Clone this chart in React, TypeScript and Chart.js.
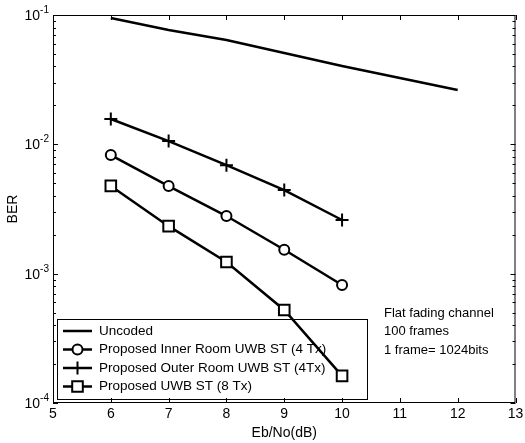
import React, { useEffect, useRef } from "react";
import { Chart, registerables } from "chart.js";

Chart.register(...registerables);

// ---- data ----
const uncodedEbNo = [6, 7, 8, 9, 10, 11, 12];
const uncodedBer = [0.0948, 0.0766, 0.064, 0.0508, 0.0403, 0.0326, 0.0263];
const stEbNo = [6, 7, 8, 9, 10];
const innerRoomBer = [0.00826, 0.00476, 0.00279, 0.00153, 0.000817];
const outerRoomBer = [0.0157, 0.0106, 0.0069, 0.00443, 0.0026];
const uwb8TxBer = [0.00477, 0.00233, 0.00123, 0.000524, 0.000162];

const seriesLabels = [
  "Uncoded",
  "Proposed Inner Room UWB ST (4 Tx)",
  "Proposed Outer Room UWB ST (4Tx)",
  "Proposed UWB ST (8 Tx)",
];
const xTickLabels = [5, 6, 7, 8, 9, 10, 11, 12, 13];
const yTickExponents = [-4, -3, -2, -1];
const noteLines = ["Flat fading channel", "100 frames", "1 frame= 1024bits"];
const xTitle = "Eb/No(dB)";
const yTitle = "BER";

const FONT = "'Liberation Sans', Arial, sans-serif";

const toPts = (xs: number[], ys: number[]) => xs.map((x, i) => ({ x, y: ys[i] }));

function drawPointLocal(ctx: CanvasRenderingContext2D, o: any, x: number, y: number) {
  const r = o.radius;
  ctx.beginPath();
  if (o.pointStyle === "circle") {
    ctx.arc(x, y, r, 0, Math.PI * 2);
    ctx.fill();
    ctx.stroke();
  } else if (o.pointStyle === "rect") {
    const s = Math.SQRT1_2 * r;
    ctx.rect(x - s, y - s, 2 * s, 2 * s);
    ctx.fill();
    ctx.stroke();
  } else if (o.pointStyle === "cross") {
    ctx.moveTo(x - r, y);
    ctx.lineTo(x + r, y);
    ctx.moveTo(x, y - r);
    ctx.lineTo(x, y + r);
    ctx.stroke();
  }
}

const decorPlugin = {
  id: "decor",
  beforeDatasetsDraw(chart: any) {
    const { ctx } = chart;
    // legend box (drawn beneath the lines)
    const bx = 57, by = 319, bw = 310, bh = 80;
    ctx.save();
    ctx.fillStyle = "#fff";
    ctx.fillRect(bx, by, bw, bh);
    ctx.strokeStyle = "#000";
    ctx.lineWidth = 1;
    ctx.strokeRect(bx + 0.5, by + 0.5, bw, bh);
    chart.data.datasets.forEach((ds: any, i: number) => {
      const yy = 331 + i * 18.5;
      ctx.strokeStyle = "#000";
      ctx.lineWidth = 2.5;
      ctx.beginPath();
      ctx.moveTo(63, yy);
      ctx.lineTo(92, yy);
      ctx.stroke();
      if (ds.pointStyle && ds.pointRadius > 0) {
        ctx.lineWidth = 2;
        ctx.fillStyle = "#fff";
        ctx.strokeStyle = "#000";
        drawPointLocal(ctx, { pointStyle: ds.pointStyle, radius: ds.pointRadius }, 77.5, yy);
      }
      ctx.fillStyle = "#000";
      ctx.font = `13.5px ${FONT}`;
      ctx.textBaseline = "middle";
      ctx.textAlign = "left";
      ctx.fillText(ds.label, 99, yy);
    });
    ctx.restore();
  },
  afterDraw(chart: any) {
    const { ctx, chartArea } = chart;
    const xs = chart.scales.x;
    const ys = chart.scales.y;
    const { left, right, top, bottom } = chartArea;
    ctx.save();
    ctx.strokeStyle = "#000";
    ctx.lineWidth = 1;
    ctx.strokeRect(left + 0.5, top + 0.5, right - left - 1, bottom - top - 1);
    // x ticks
    ctx.beginPath();
    xTickLabels.forEach((v) => {
      const px = Math.round(xs.getPixelForValue(v)) + 0.5;
      ctx.moveTo(px, bottom);
      ctx.lineTo(px, bottom - 5);
      ctx.moveTo(px, top);
      ctx.lineTo(px, top + 5);
    });
    // y ticks (major + minor)
    yTickExponents.forEach((e) => {
      for (let m = 1; m <= 9; m++) {
        const v = m * Math.pow(10, e);
        if (m > 1 && e === yTickExponents[yTickExponents.length - 1]) continue;
        const py = Math.round(ys.getPixelForValue(v)) + 0.5;
        const len = m === 1 ? 5 : 3;
        ctx.moveTo(left, py);
        ctx.lineTo(left + len, py);
        ctx.moveTo(right, py);
        ctx.lineTo(right - len, py);
      }
    });
    ctx.stroke();

    ctx.fillStyle = "#000";
    ctx.font = `14px ${FONT}`;
    ctx.textAlign = "center";
    ctx.textBaseline = "top";
    xTickLabels.forEach((v) => {
      ctx.fillText(String(v), xs.getPixelForValue(v), 407);
    });
    // y labels 10^e
    yTickExponents.forEach((e) => {
      const py = ys.getPixelForValue(Math.pow(10, e));
      ctx.font = `10px ${FONT}`;
      const sup = String(e);
      const sw = ctx.measureText(sup).width;
      ctx.textAlign = "left";
      ctx.textBaseline = "alphabetic";
      ctx.fillText(sup, 49 - sw, py - 2);
      ctx.font = `14px ${FONT}`;
      ctx.textAlign = "right";
      ctx.fillText("10", 49 - sw, py + 5);
    });
    // axis titles
    ctx.font = `14px ${FONT}`;
    ctx.textAlign = "center";
    ctx.textBaseline = "middle";
    ctx.fillText(xTitle, (left + right) / 2, 433);
    ctx.save();
    ctx.translate(13, (top + bottom) / 2);
    ctx.rotate(-Math.PI / 2);
    ctx.fillText(yTitle, 0, 0);
    ctx.restore();
    // note
    ctx.font = `13px ${FONT}`;
    ctx.textAlign = "left";
    noteLines.forEach((t, i) => ctx.fillText(t, 384, 313 + i * 18.5));
    ctx.restore();
  },
};

export default function App() {
  const ref = useRef<HTMLCanvasElement | null>(null);
  useEffect(() => {
    if (!ref.current) return;
    const common = {
      borderColor: "#000",
      backgroundColor: "#fff",
      borderWidth: 2.5,
      pointBorderColor: "#000",
      pointBackgroundColor: "#fff",
      pointBorderWidth: 2,
      tension: 0,
      fill: false,
    };
    const chart = new Chart(ref.current, {
      type: "line",
      data: {
        datasets: [
          { ...common, label: seriesLabels[0], data: toPts(uncodedEbNo, uncodedBer), pointRadius: 0, pointStyle: false as any },
          { ...common, label: seriesLabels[1], data: toPts(stEbNo, innerRoomBer), pointRadius: 5, pointStyle: "circle" },
          { ...common, label: seriesLabels[2], data: toPts(stEbNo, outerRoomBer), pointRadius: 6.5, pointStyle: "cross" },
          { ...common, label: seriesLabels[3], data: toPts(stEbNo, uwb8TxBer), pointRadius: 7.5, pointStyle: "rect" },
        ],
      },
      options: {
        animation: false,
        responsive: false,
        maintainAspectRatio: false,
        layout: { padding: { top: 15, right: 9, left: 0, bottom: 0 } },
        plugins: { legend: { display: false }, tooltip: { enabled: false } },
        scales: {
          x: {
            type: "linear",
            min: 5,
            max: 13,
            grid: { display: false },
            border: { display: false },
            ticks: { display: false },
            afterFit: (s: any) => { s.height = 40; },
          },
          y: {
            type: "logarithmic",
            min: 1e-4,
            max: 1e-1,
            grid: { display: false },
            border: { display: false },
            ticks: { display: false },
            afterFit: (s: any) => { s.width = 53; },
          },
        },
      },
      plugins: [decorPlugin],
    } as any);
    return () => chart.destroy();
  }, []);
  return (
    <div style={{ position: "fixed", left: 0, top: 0, width: 525, height: 443, background: "#fff" }}>
      <canvas ref={ref} width={525} height={443} style={{ width: 525, height: 443 }} />
    </div>
  );
}
